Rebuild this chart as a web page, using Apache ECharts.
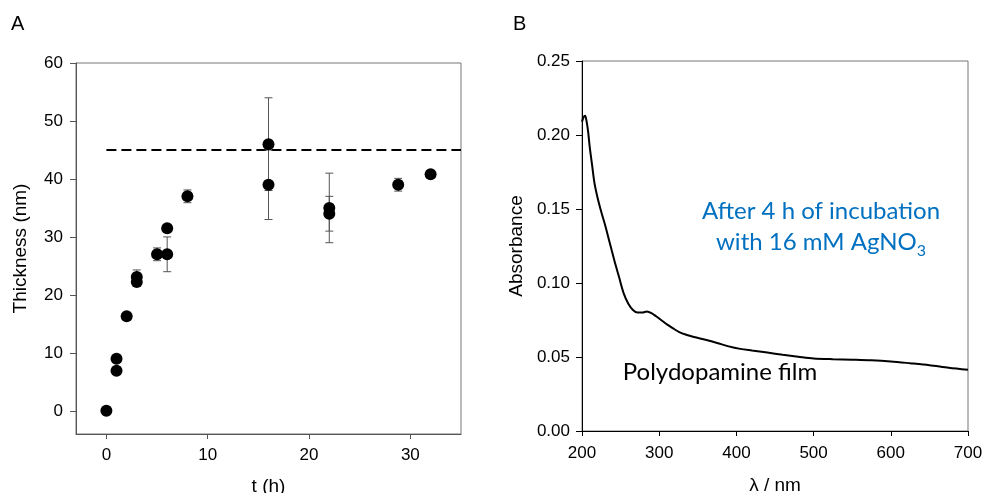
<!DOCTYPE html>
<html>
<head>
<meta charset="utf-8">
<script src="https://cdn.jsdelivr.net/npm/echarts@6/dist/echarts.min.js"></script>
<style>html,body{margin:0;padding:0;background:#fff}#c{width:984px;height:493px}</style>
</head>
<body>
<div id="c"></div>
<script>
// Panel A: film thickness vs incubation time
const tHours       = [0, 1, 1, 2, 3, 3, 5, 6, 6, 8, 16, 16, 22, 22, 28.8, 32];
const thickness    = [0, 9, 6.9, 16.3, 23.1, 22.2, 27, 31.5, 27, 37, 46, 39, 35, 34, 39, 40.8];
const thicknessErr = [0, 0, 0, 0, 1.2, 0, 1.1, 0, 3, 1.1, 8, 6, 6, 3, 1.1, 0];
const plateauLevel = 45;
const plateauRange = [0, 35];
const tTicks = [0, 10, 20, 30];
const thickTicks = [0, 10, 20, 30, 40, 50, 60];

// Panel B: UV-vis absorbance spectrum
const wavelength = [200, 202, 204, 206, 208, 210, 213, 216, 220, 225, 230, 236, 242, 248, 254, 260, 266, 272, 278, 284, 290, 296, 302, 310, 318, 326, 335, 345, 360, 375, 390, 405, 420, 440, 460, 480, 500, 525, 550, 575, 600, 625, 650, 675, 700];
const absorbance = [0.209, 0.212, 0.213, 0.209, 0.202, 0.192, 0.180, 0.168, 0.158, 0.148, 0.139, 0.127, 0.115, 0.104, 0.093, 0.086, 0.0818, 0.0800, 0.0800, 0.0808, 0.0797, 0.0775, 0.0752, 0.0720, 0.0693, 0.0668, 0.0650, 0.0635, 0.0616, 0.0595, 0.0572, 0.0555, 0.0544, 0.0530, 0.0515, 0.0502, 0.0490, 0.0485, 0.0482, 0.0478, 0.0470, 0.0458, 0.0445, 0.0428, 0.0414];

const FONT = 'Liberation Sans';
const NOTE_FONT = '24px Lato';
const chart = echarts.init(document.getElementById('c'), null, {renderer: 'canvas'});

const ptsA = tHours.map((t, i) => [t, thickness[i], thicknessErr[i]]);
const ptsB = wavelength.map((w, i) => [w, absorbance[i]]);

function errRender(params, api) {
  const x = api.value(0), y = api.value(1), e = api.value(2);
  if (!e) return null;
  const top = api.coord([x, y + e]);
  const bot = api.coord([x, y - e]);
  const w = 4;
  const st = {stroke: '#555', lineWidth: 1};
  return {type: 'group', children: [
    {type: 'line', shape: {x1: top[0], y1: top[1], x2: bot[0], y2: bot[1]}, style: st},
    {type: 'line', shape: {x1: top[0] - w, y1: top[1], x2: top[0] + w, y2: top[1]}, style: st},
    {type: 'line', shape: {x1: bot[0] - w, y1: bot[1], x2: bot[0] + w, y2: bot[1]}, style: st}
  ]};
}

// measure the subscript line so "3" sits right after "AgNO"
const mctx = document.createElement('canvas').getContext('2d');
mctx.font = NOTE_FONT;
const mainLine = 'with 16 mM AgNO';
const subFont = '16px Lato';
const wMain = mctx.measureText(mainLine).width;
mctx.font = subFont;
const wSub = mctx.measureText('3').width;
const line2Center = 821;
const line2Left = line2Center - (wMain + wSub) / 2;

const axisLab = {color: '#000', fontFamily: FONT, fontSize: 17};
const nameStyle = {fontFamily: FONT, fontSize: 19, color: '#000'};

chart.setOption({
  animation: false,
  backgroundColor: '#fff',
  textStyle: {fontFamily: FONT},
  grid: [
    {left: 76, top: 63, width: 385, height: 371, show: true, borderColor: '#777', borderWidth: 1, backgroundColor: 'transparent', outerBoundsMode: 'none', containLabel: false},
    {left: 582, top: 61, width: 386, height: 370, show: true, borderColor: '#777', borderWidth: 1, backgroundColor: 'transparent', outerBoundsMode: 'none', containLabel: false}
  ],
  xAxis: [
    {gridIndex: 0, type: 'value', min: -3, max: 35,
     name: 't (h)', nameLocation: 'middle', nameGap: 43, nameTextStyle: nameStyle,
     axisLine: {onZero: false, lineStyle: {color: '#555', width: 1}},
     axisTick: {show: true, length: 5, customValues: tTicks, lineStyle: {color: '#555'}},
     axisLabel: Object.assign({margin: 13, customValues: tTicks}, axisLab),
     splitLine: {show: false}},
    {gridIndex: 1, type: 'value', min: 200, max: 700, interval: 100,
     name: 'λ / nm', nameLocation: 'middle', nameGap: 45, nameTextStyle: nameStyle,
     axisLine: {onZero: false, lineStyle: {color: '#000', width: 1}},
     axisTick: {show: true, length: 5, lineStyle: {color: '#000'}},
     axisLabel: Object.assign({margin: 14}, axisLab),
     splitLine: {show: false}}
  ],
  yAxis: [
    {gridIndex: 0, type: 'value', min: -4, max: 60,
     name: 'Thickness (nm)', nameLocation: 'middle', nameGap: 46, nameTextStyle: nameStyle,
     axisLine: {show: true, onZero: false, lineStyle: {color: '#555', width: 1}},
     axisTick: {show: true, length: 6, customValues: thickTicks, lineStyle: {color: '#555'}},
     axisLabel: Object.assign({margin: 13, customValues: thickTicks}, axisLab),
     splitLine: {show: false}},
    {gridIndex: 1, type: 'value', min: 0, max: 0.25, interval: 0.05,
     name: 'Absorbance', nameLocation: 'middle', nameGap: 56, nameTextStyle: nameStyle,
     axisLine: {show: true, onZero: false, lineStyle: {color: '#000', width: 1}},
     axisTick: {show: true, length: 6, lineStyle: {color: '#000'}},
     axisLabel: Object.assign({margin: 12, formatter: v => v.toFixed(2)}, axisLab),
     splitLine: {show: false}}
  ],
  series: [
    {type: 'line', xAxisIndex: 0, yAxisIndex: 0, symbol: 'none', silent: true,
     data: [[plateauRange[0], plateauLevel], [plateauRange[1], plateauLevel]],
     lineStyle: {color: '#000', width: 2, type: [10, 5]}, z: 2},
    {type: 'custom', xAxisIndex: 0, yAxisIndex: 0, renderItem: errRender,
     data: ptsA, encode: {x: 0, y: 1}, z: 3},
    {type: 'scatter', xAxisIndex: 0, yAxisIndex: 0, data: ptsA.map(p => [p[0], p[1]]),
     symbol: 'circle', symbolSize: 12, itemStyle: {color: '#000', opacity: 1}, z: 4},
    {type: 'line', xAxisIndex: 1, yAxisIndex: 1, data: ptsB, symbol: 'none', smooth: 0.3,
     lineStyle: {color: '#000', width: 2}, z: 3}
  ],
  graphic: [
    {type: 'text', left: 11, top: 14, style: {text: 'A', font: '20px ' + FONT, fill: '#000'}},
    {type: 'text', left: 513, top: 14, style: {text: 'B', font: '20px ' + FONT, fill: '#000'}},
    {type: 'text', x: 821, y: 211, style: {text: 'After 4 h of incubation', font: NOTE_FONT, fill: '#0070C0', align: 'center', verticalAlign: 'middle'}},
    {type: 'text', x: line2Left, y: 242, style: {text: mainLine, font: NOTE_FONT, fill: '#0070C0', align: 'left', verticalAlign: 'middle'}},
    {type: 'text', x: line2Left + wMain, y: 251, style: {text: '3', font: subFont, fill: '#0070C0', align: 'left', verticalAlign: 'middle'}},
    {type: 'text', x: 720, y: 372, style: {text: 'Polydopamine film', font: NOTE_FONT, fill: '#000', align: 'center', verticalAlign: 'middle'}}
  ]
});
</script>
</body>
</html>
